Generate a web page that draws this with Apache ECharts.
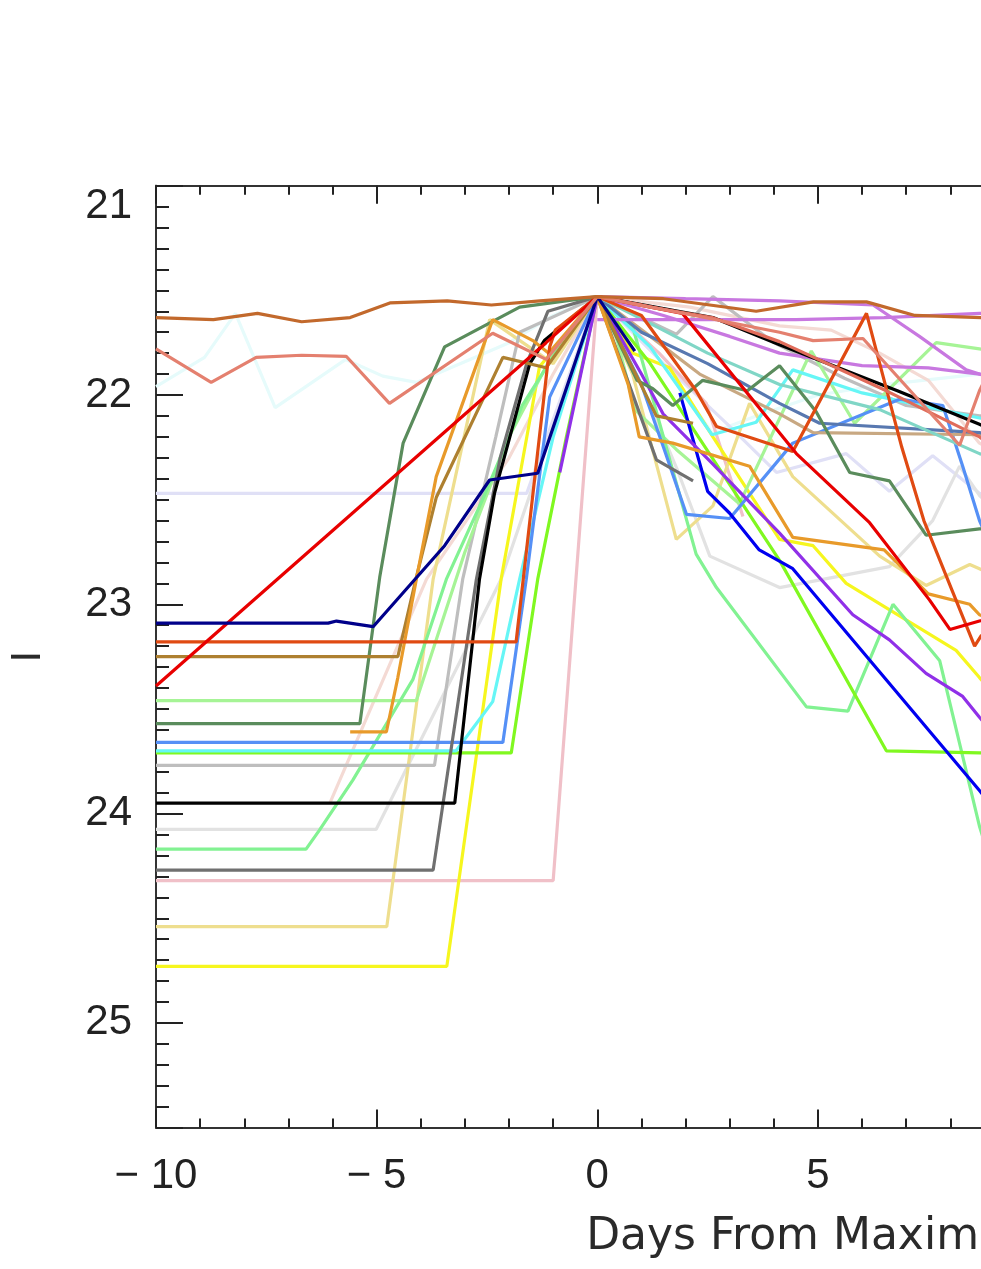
<!DOCTYPE html>
<html><head><meta charset="utf-8">
<script src="https://cdn.jsdelivr.net/npm/echarts@6/dist/echarts.min.js"></script>
<style>html,body{margin:0;padding:0;background:#fff}#c{width:981px;height:1269px}</style>
</head><body><div id="c"></div>
<script>
// ---- data: [day from maximum, I magnitude] ----
const brown = [[-10,21.63],[-8.7,21.64],[-7.7,21.61],[-6.7,21.65],[-5.6,21.63],[-4.7,21.56],[-3.4,21.55],[-2.4,21.57],[-1.3,21.55],[0,21.53],[1.5,21.54],[3.6,21.6],[4.9,21.555],[6.1,21.555],[7.2,21.62],[8.7,21.63],[9.3,21.63]];
const darksalmon = [[-10,21.78],[-8.75,21.94],[-7.73,21.82],[-6.7,21.81],[-5.69,21.815],[-4.71,22.04],[-2.37,21.705],[-1.16,21.83],[0,21.53],[2.2,21.62],[4.13,21.70],[4.89,21.74],[6.02,21.73],[8.21,22.24],[8.66,21.98],[9.3,21.7]];
const tomato = [[0,21.53],[1.2,21.58],[2.6,21.63],[4.13,21.745],[6.55,21.98],[8.66,22.2],[9.3,22.3]];
const azure = [[-10,21.96],[-8.9,21.82],[-8.2,21.61],[-7.3,22.06],[-5.7,21.83],[-4.86,21.91],[-4.1,21.94],[-2,21.75],[-1,21.62],[0,21.53],[1.5,21.85],[2.6,22.18],[3.6,22.1],[5,22.0],[6.5,21.95],[8.66,21.9],[9.3,21.9]];
const lavender = [[-10,22.47],[-1.6,22.47],[0,21.53],[1.5,21.85],[3,22.15],[4.06,22.37],[5.64,22.28],[6.62,22.46],[7.6,22.29],[8.66,22.47],[9.3,22.5]];
const red = [[-10,23.39],[-1.16,21.75],[0,21.53],[1.93,21.61],[4.51,22.28],[6.17,22.61],[7.53,22.98],[7.99,23.12],[8.66,23.08],[9.3,23.05]];
const navy = [[-10,23.09],[-6.1,23.09],[-5.91,23.08],[-5.08,23.107],[-3.46,22.72],[-2.44,22.406],[-1.35,22.374],[0,21.53],[0.85,21.79]];
const orangered = [[-10,23.18],[-1.84,23.18],[-1.08,21.77],[-0.95,21.69],[0,21.53],[1.0,21.62],[2.24,21.98],[2.7,22.15],[4.43,22.27],[6.1,21.61],[6.9,22.25],[7.4,22.6],[8.55,23.2],[8.7,23.15],[9.3,23.1]];
const goldenrod = [[-10,23.25],[-4.52,23.25],[-4.1,22.87],[-3.65,22.49],[-2.14,21.82],[-1.16,21.87],[0,21.53],[1.34,22.1],[2.17,22.135]];
const palegreen = [[-10,23.46],[-4.1,23.46],[-3,22.75],[-2,22.2],[-1,21.8],[0,21.53],[0.43,21.72],[0.85,22.07],[1.79,22.26],[3.22,22.52],[4.85,21.79],[5.83,22.135],[7.68,21.75],[8.66,21.78],[9.3,21.8]];
const seagreen = [[-10,23.57],[-5.38,23.57],[-4.93,22.87],[-4.4,22.23],[-3.46,21.77],[-1.76,21.58],[0,21.53],[0.9,21.93],[1.26,21.97],[1.71,22.05],[2.39,21.93],[3.4,21.98],[4.13,21.86],[4.96,22.08],[5.72,22.37],[6.62,22.41],[7.45,22.67],[8.66,22.64],[9.3,22.64]];
const orange = [[-5.6,23.61],[-4.78,23.61],[-4.52,23.35],[-4.1,22.88],[-3.65,22.39],[-2.37,21.64],[-1.46,21.74],[-1.1,21.8],[0,21.53],[0.7,21.95],[0.95,22.2],[1.71,22.23],[3.45,22.34],[4.43,22.68],[6.5,22.74],[7.5,22.95],[8.44,23.0],[8.66,23.05],[9.3,23.1]];
const cornflower = [[-10,23.66],[-2.14,23.66],[-1.61,22.88],[-1.08,22.01],[0,21.53],[1.0,21.95],[1.5,22.25],[2.02,22.57],[3.0,22.59],[4.43,22.23],[6.85,22.02],[7.83,22.05],[8.28,22.34],[8.66,22.6],[9.3,22.9]];
const cyan = [[-10,23.70],[-3.2,23.70],[-2.37,23.465],[-1.76,22.88],[-1.0,22.2],[0,21.53],[1.2,21.77],[2.6,22.19],[3.6,22.13],[4.43,21.88],[6.0,21.99],[8.66,22.11],[9.3,22.13]];
const lawngreen = [[-10,23.71],[-1.95,23.71],[-1.35,22.88],[-0.7,22.2],[0,21.53],[1.2,21.85],[4.13,22.79],[6.55,23.70],[8.66,23.71],[9.3,23.71]];
const silver = [[-10,23.77],[-3.69,23.77],[-3.05,22.88],[-2.3,22.2],[-1.76,21.7],[0,21.53],[1.79,21.71],[2.62,21.53],[4,21.75],[5.6,21.92],[7,22.05],[8.66,22.1],[9.3,22.1]];
const black = [[-10,23.95],[-3.23,23.95],[-2.67,22.88],[-2.33,22.47],[-1.53,21.85],[-1.2,21.74],[0,21.53],[2.62,21.63],[4.13,21.76],[6.8,21.98],[8.66,22.14],[9.3,22.2]];
const lightgrey = [[-10,24.075],[-5.01,24.075],[-2.18,22.88],[-1.0,22.15],[0,21.53],[1.0,21.95],[1.8,22.35],[2.55,22.77],[4.13,22.92],[6.62,22.82],[7.6,22.6],[8.21,22.34],[8.66,22.48],[9.3,22.6]];
const lightgreen = [[-10,24.17],[-6.6,24.17],[-6.3,24.08],[-5.54,23.84],[-4.18,23.36],[-3.42,22.88],[-2.6,22.5],[-1.7,22.05],[-0.8,21.75],[0,21.53],[0.81,21.68],[2.24,22.76],[2.7,22.92],[4.74,23.49],[5.68,23.51],[6.7,23.0],[7.76,23.27],[8.66,24.06],[9.3,24.5]];
const mistyrose = [[-6.06,23.95],[-3.87,22.88],[-2,22.3],[-1,21.9],[0,21.53],[2.1,21.58],[4.13,21.67],[5.3,21.69],[6.4,21.8],[7.5,21.93],[8.66,22.23],[9.3,22.3]];
const dimgray = [[-10,24.27],[-3.72,24.27],[-2.74,22.88],[-2.2,22.3],[-1.6,21.85],[-1.12,21.6],[0,21.53],[1.34,22.31],[2.17,22.41]];
const pink = [[-10,24.32],[-1.0,24.32],[0,21.53],[1.4,21.8],[2.47,22.04],[3.3,22.58]];
const khaki = [[-10,24.54],[-4.77,24.54],[-3.72,22.88],[-2.44,21.64],[-1.0,21.85],[0,21.53],[0.8,21.9],[1.79,22.69],[2.62,22.53],[3.45,22.04],[4.43,22.39],[6.4,22.77],[7.45,22.91],[8.44,22.81],[8.66,22.83],[9.3,22.9]];
const yellow = [[-10,24.73],[-3.41,24.73],[-2.18,22.88],[-1.31,21.865],[0,21.53],[0.81,21.80],[1.64,21.87],[2.62,22.2],[4.13,22.69],[4.89,22.72],[5.64,22.9],[8.13,23.22],[8.66,23.35],[9.3,23.5]];
const blue = [[1.87,21.99],[2.5,22.46],[3.0,22.565],[3.67,22.74],[4.43,22.83],[8.66,23.89],[9.3,24.05]];
const blueviolet = [[-0.85,22.37],[0,21.53],[1.0,21.9],[1.49,22.09],[2.62,22.33],[4.13,22.66],[5.79,23.05],[6.62,23.17],[7.45,23.33],[8.28,23.44],[8.66,23.54],[9.3,23.7]];
const orchidFlat = [[0,21.64],[2,21.64],[4.5,21.64],[6.5,21.63],[8.66,21.61],[9.3,21.61]];
const orchidHigh = [[0,21.53],[2,21.54],[4.13,21.55],[6.25,21.57],[7.3,21.72],[8.36,21.88],[8.66,21.9],[9.3,21.95]];
const orchidLow = [[0,21.53],[1.5,21.62],[3.0,21.72],[4.13,21.8],[6.0,21.86],[7.5,21.87],[8.66,21.9],[9.3,21.92]];
const aquamarine = [[0,21.53],[1.03,21.64],[2.5,21.8],[4.13,21.95],[6.4,22.07],[8.66,22.28],[9.3,22.32]];
const steelblue = [[0,21.53],[1.0,21.7],[2.5,21.85],[4.13,22.04],[5.04,22.135],[8.66,22.18],[9.3,22.19]];
const tan = [[0,21.53],[1.2,21.72],[2.32,21.9],[4.13,22.09],[4.89,22.18],[8.66,22.19],[9.3,22.19]];

const xTicks = [-10,-5,0,5,10,15,20];
const yTicks = [21,22,23,24,25];

// ---- styles ----
const lines = [
  [azure,'#E6FBFB'],[lavender,'#E0E0F6'],[mistyrose,'#F4DAD4'],[lightgrey,'#E2E2E2'],
  [pink,'#F0C0C8'],[khaki,'#EEDE8E'],[yellow,'#F6F61E'],[silver,'#BEBEBE'],
  [palegreen,'#A6F496'],[lightgreen,'#82F292'],[lawngreen,'#80F820'],[cyan,'#66F6F6'],
  [cornflower,'#5590F6'],[tan,'#C8A882'],[steelblue,'#5878B0'],[aquamarine,'#80D6C6'],
  [orchidLow,'#C878E0'],[orchidFlat,'#C878E0'],[orchidHigh,'#C878E0'],
  [blue,'#0000F0'],[blueviolet,'#9030E8'],[dimgray,'#707070'],[black,'#000000'],
  [seagreen,'#5A8C5C'],[goldenrod,'#AE8030'],[orange,'#E89A2A'],[orangered,'#E04A12'],
  [red,'#E80000'],[navy,'#00008A'],[tomato,'#E06C5A'],[darksalmon,'#E4806F'],[brown,'#C2692C']
];

const font = 'Liberation Sans';
const titleFont = 'DejaVu Sans';
const axisCol = '#333';
const chart = echarts.init(document.getElementById('c'), null, {renderer:'canvas'});
const pxDay = 44.13;
const gridLeft = 156, gridTop = 185.7;
const xMin = xTicks[0], xMax = xTicks[xTicks.length-1];
const yMin = yTicks[0], yMax = 25.5;

const xBase = (pos, labels) => ({
  type:'value', min:xMin, max:xMax, interval:5, position:pos,
  axisLine:{show:true, onZero:false, lineStyle:{color:axisCol, width:2}},
  axisTick:{show:true, inside:true, length:18, lineStyle:{color:'#222', width:2}},
  minorTick:{show:true, splitNumber:5, length:9, lineStyle:{color:'#222', width:2}},
  splitLine:{show:false}, minorSplitLine:{show:false},
  axisLabel:{show:labels, fontFamily:font, fontSize:42, color:'#222', margin:28,
    formatter: v => xTicks.includes(v) ? String(v).replace('-', '\u2212 ') : ''}
});
const yBase = (pos, labels, interval, tickLen) => ({
  type:'value', min:yMin, max:yMax, interval:interval, inverse:true, position:pos,
  axisLine:{show:true, onZero:false, lineStyle:{color:axisCol, width:2}},
  axisTick:{show:true, inside:true, length:tickLen, lineStyle:{color:'#222', width:2}},
  splitLine:{show:false},
  axisLabel:{show:labels, fontFamily:font, fontSize:42, color:'#222', margin:24,
    verticalAlignMinLabel:'top',
    formatter: v => yTicks.includes(Math.round(v*1000)/1000) ? String(v) : ''}
});

const xa = xBase('bottom', true);
xa.name = 'Days From Maximum';
xa.nameLocation = 'middle';
xa.nameGap = 88;
xa.nameTextStyle = {fontFamily:titleFont, fontSize:44, color:'#2a2a2a'};
const ya = yBase('left', true, 1, 27);
ya.name = 'I';
ya.nameLocation = 'middle';
ya.nameRotate = 90;
ya.nameGap = 107;
ya.nameTextStyle = {fontFamily:font, fontSize:42, color:'#2a2a2a'};

const option = {
  animation:false,
  backgroundColor:'#fff',
  grid:{left:gridLeft, top:gridTop, width:pxDay*(xMax-xMin), height:209.3*(yMax-yMin),
        containLabel:false, outerBoundsMode:'none'},
  xAxis:[xa, xBase('top', false)],
  yAxis:[ya, yBase('left', false, 0.1, 13), yBase('right', false, 1, 27), yBase('right', false, 0.1, 13)],
  series: lines.map(([d,c]) => ({
    type:'line', data:d, xAxisIndex:0, yAxisIndex:0, symbol:'none', showSymbol:false,
    lineStyle:{color:c, width:3.2}, itemStyle:{color:c}, clip:true, silent:true
  }))
};
chart.setOption(option);
</script></body></html>
